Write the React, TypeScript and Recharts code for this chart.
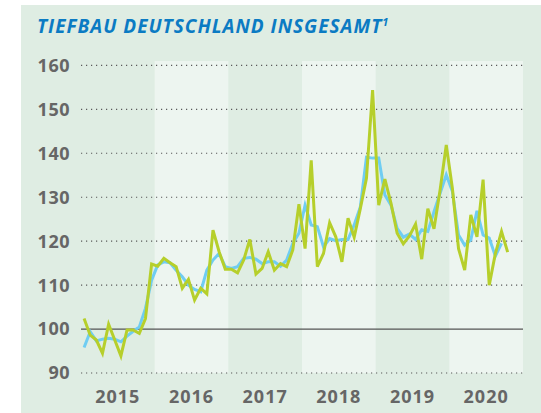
import React from "react";
import {
  LineChart,
  Line,
  XAxis,
  YAxis,
  ReferenceArea,
  ReferenceLine,
} from "recharts";

const title = "TIEFBAU DEUTSCHLAND INSGESAMT";
const footnote = "1";
const years = ["2015", "2016", "2017", "2018", "2019", "2020"];
const yTicks = [90, 100, 110, 120, 130, 140, 150, 160];

// monthly index (green), Jan 2015 – Oct 2020
const indexValues = [
  102.4, 98.6, 97.5, 94.5, 101.1, 97.5, 93.9, 99.8, 99.8, 99.0, 102.4, 114.8,
  114.3, 116.1, 115.1, 114.2, 109.3, 111.3, 106.6, 109.3, 108.0, 122.5, 117.6, 113.6,
  113.6, 112.8, 115.7, 120.4, 112.5, 113.8, 117.6, 113.4, 114.9, 114.2, 118.0, 128.4,
  118.3, 138.4, 114.2, 117.2, 124.2, 121.0, 115.3, 125.2, 120.9, 127.4, 134.3, 154.4,
  128.2, 134.1, 128.6, 121.8, 119.4, 121.2, 123.9, 115.9, 127.4, 122.8, 131.7, 141.9,
  132.0, 118.3, 113.4, 126.0, 121.0, 134.0, 110.0, 117.2, 122.2, 117.5,
];

// smoothed trend (blue), Jan 2015 – Sep 2020
const trendValues = [
  95.8, 99.4, 97.3, 97.7, 97.9, 97.7, 97.1, 98.4, 99.5, 100.5, 104.7, 111.1,
  114.6, 115.3, 115.1, 113.4, 111.9, 110.0, 109.0, 108.5, 113.4, 115.7, 117.2, 114.2,
  113.8, 114.2, 116.1, 116.3, 115.9, 114.9, 115.3, 115.3, 114.3, 115.7, 119.5, 121.8,
  128.2, 123.7, 123.3, 118.7, 120.6, 120.1, 120.4, 120.4, 123.7, 127.8, 139.1, 138.9,
  138.9, 130.5, 128.2, 122.9, 120.9, 121.6, 120.4, 122.6, 122.2, 126.7, 130.9, 135.1,
  131.3, 121.4, 119.1, 120.3, 126.9, 121.4, 120.7, 116.6, 119.5,
];

const data = indexValues.map((v, i) => ({
  x: i + 0.5,
  index: v,
  trend: i < trendValues.length ? trendValues[i] : null,
}));

const xTicks = years.map((_, i) => i * 12 + 6);

const BG = "#dfede3";
const BAND = "#edf5f0";
const GRID = "#5a5a5a";
const TICK = "#666666";

export default function App() {
  return (
    <div
      style={{
        position: "absolute",
        left: 0,
        top: 0,
        width: 541,
        height: 413,
        background: "#ffffff",
        overflow: "hidden",
      }}
    >
      <div
        style={{
          position: "absolute",
          left: 21,
          top: 5,
          width: 520,
          height: 408,
          background: BG,
        }}
      />
      <div style={{ position: "absolute", left: 0, top: 0 }}>
        <LineChart
          width={541}
          height={413}
          data={data}
          margin={{ top: 61, right: 18, bottom: 0, left: 0 }}
        >
          <XAxis
            dataKey="x"
            type="number"
            domain={[0, 72]}
            ticks={xTicks}
            tickFormatter={(v: number) => years[Math.round((v - 6) / 12)]}
            axisLine={false}
            tickLine={false}
            tickSize={0}
            tickMargin={17}
            height={40}
            interval={0}
            tick={{
              fill: TICK,
              fontSize: 18,
              fontWeight: 700,
              fontFamily: "Open Sans",
              letterSpacing: 1,
            }}
          />
          <YAxis
            type="number"
            domain={[90, 161]}
            ticks={yTicks}
            allowDataOverflow
            axisLine={false}
            tickLine={false}
            tickSize={0}
            tickMargin={11}
            width={81}
            interval={0}
            tick={{
              fill: TICK,
              fontSize: 18,
              fontWeight: 700,
              fontFamily: "Open Sans",
              letterSpacing: 0.5,
            }}
          />
          {years.map((y, i) =>
            i % 2 === 1 ? (
              <ReferenceArea
                key={y}
                x1={i * 12}
                x2={(i + 1) * 12}
                y1={90}
                y2={161}
                fill={BAND}
                fillOpacity={1}
                stroke="none"
                ifOverflow="visible"
              />
            ) : null
          )}
          {yTicks
            .filter((t) => t !== 100)
            .map((t) => (
              <ReferenceLine
                key={t}
                y={t}
                stroke={GRID}
                strokeWidth={1.1}
                strokeDasharray="1.2 3.8"
              />
            ))}
          <ReferenceLine y={100} stroke="#555555" strokeWidth={1.3} />
          <Line
            dataKey="trend"
            stroke="#6fcdf2"
            strokeWidth={3}
            dot={false}
            isAnimationActive={false}
            connectNulls={false}
          />
          <Line
            dataKey="index"
            stroke="#b6cf2b"
            strokeWidth={3}
            dot={false}
            isAnimationActive={false}
          />
        </LineChart>
      </div>
      <svg
        width={541}
        height={413}
        style={{ position: "absolute", left: 0, top: 0, pointerEvents: "none" }}
      >
        <text
          x={37}
          y={33}
          fill="#0b7bc3"
          fontFamily="Open Sans"
          fontWeight={700}
          fontStyle="italic"
          fontSize={19}
          letterSpacing={1}
        >
          {title}
          <tspan dy={-7} fontSize={11} letterSpacing={0}>
            {footnote}
          </tspan>
        </text>
      </svg>
    </div>
  );
}
